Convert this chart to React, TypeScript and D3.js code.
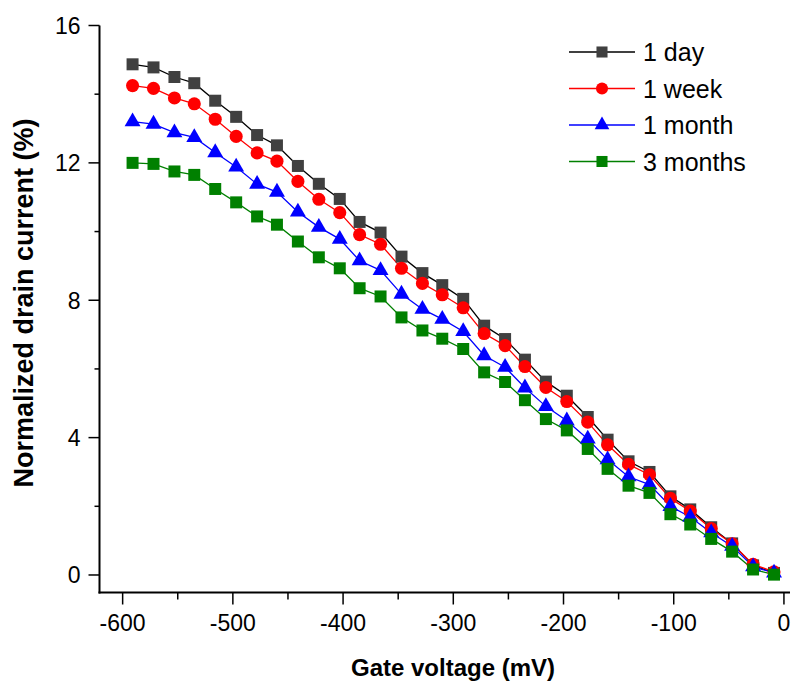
import React, { useEffect, useRef } from 'react';
import * as d3 from 'd3';

// gate voltage (mV) of each measurement
const voltages = [
  -591, -572, -553, -535, -516, -497, -478, -460, -441, -422, -403, -385, -366, -347, -328, -310,
  -291, -272, -253, -235, -216, -197, -178, -160, -141, -122, -103, -85, -66, -47, -28, -9,
];

const oneDay = [
  14.87, 14.78, 14.5, 14.32, 13.81, 13.34, 12.81, 12.51, 11.91, 11.39, 10.95, 10.28, 9.97, 9.27, 8.79, 8.44,
  8.04, 7.26, 6.87, 6.27, 5.63, 5.22, 4.6, 3.94, 3.31, 3.0, 2.29, 1.91, 1.39, 0.92, 0.28, 0.06,
];
const oneWeek = [
  14.25, 14.17, 13.89, 13.72, 13.27, 12.77, 12.29, 12.05, 11.46, 10.94, 10.55, 9.91, 9.63, 8.93, 8.49, 8.16,
  7.78, 7.03, 6.68, 6.07, 5.46, 5.05, 4.45, 3.79, 3.22, 2.92, 2.23, 1.86, 1.35, 0.91, 0.31, 0.09,
];
const oneMonth = [
  13.2, 13.13, 12.88, 12.74, 12.3, 11.88, 11.38, 11.15, 10.57, 10.13, 9.78, 9.15, 8.87, 8.18, 7.74, 7.45,
  7.09, 6.39, 6.05, 5.45, 4.91, 4.49, 3.96, 3.36, 2.86, 2.63, 2.0, 1.69, 1.23, 0.84, 0.24, 0.06,
];
const threeMonths = [
  12.0, 11.97, 11.75, 11.65, 11.24, 10.85, 10.44, 10.2, 9.71, 9.25, 8.93, 8.35, 8.11, 7.5, 7.12, 6.88,
  6.58, 5.9, 5.62, 5.09, 4.54, 4.21, 3.67, 3.09, 2.6, 2.39, 1.77, 1.47, 1.05, 0.68, 0.16, 0.01,
];

const seriesNames = ['1 day', '1 week', '1 month', '3 months'];
const xTicks = [-600, -500, -400, -300, -200, -100, 0];
const yTicks = [0, 4, 8, 12, 16];

const FONT = "'Liberation Sans', Arial, sans-serif";

export default function App() {
  const ref = useRef<SVGSVGElement>(null);

  useEffect(() => {
    const svg = d3.select(ref.current);
    svg.selectAll('*').remove();

    const x = d3.scaleLinear().domain([-621, 5.5]).range([99.5, 790]);
    const y = d3.scaleLinear().domain([-0.51, 16]).range([592.5, 25.5]);

    const styles = [
      { values: oneDay, line: '#000000', fill: '#404040', shape: d3.symbolSquare, size: 144 },
      { values: oneWeek, line: '#ff0000', fill: '#ff0000', shape: d3.symbolCircle, size: 135 },
      { values: oneMonth, line: '#0000ff', fill: '#0000ff', shape: d3.symbolTriangle, size: 110 },
      { values: threeMonths, line: '#008000', fill: '#008000', shape: d3.symbolSquare, size: 144 },
    ];

    // x axis
    const xAxis = svg.append('g').attr('transform', `translate(0, ${y.range()[0]})`);
    xAxis
      .append('line')
      .attr('x1', x.range()[0] - 1)
      .attr('x2', x.range()[1])
      .attr('stroke', '#000')
      .attr('stroke-width', 2);
    xAxis
      .selectAll('.tick')
      .data(d3.range(-600, 1, 50))
      .enter()
      .append('line')
      .attr('x1', (d) => x(d))
      .attr('x2', (d) => x(d))
      .attr('y1', 0)
      .attr('y2', (d) => (d % 100 === 0 ? 12 : 7))
      .attr('stroke', '#000')
      .attr('stroke-width', 1.5);
    xAxis
      .selectAll('.lab')
      .data(xTicks)
      .enter()
      .append('text')
      .attr('x', (d) => x(d))
      .attr('y', 38)
      .attr('text-anchor', 'middle')
      .attr('font-family', FONT)
      .attr('font-size', 23)
      .text((d) => String(d));

    // y axis
    const yAxis = svg.append('g').attr('transform', `translate(${x.range()[0]}, 0)`);
    yAxis
      .append('line')
      .attr('y1', y(16))
      .attr('y2', y.range()[0] + 1)
      .attr('stroke', '#000')
      .attr('stroke-width', 2);
    yAxis
      .selectAll('.tick')
      .data(d3.range(0, 16.1, 2))
      .enter()
      .append('line')
      .attr('y1', (d) => y(d))
      .attr('y2', (d) => y(d))
      .attr('x1', 0)
      .attr('x2', (d) => (d % 4 === 0 ? -11 : -5))
      .attr('stroke', '#000')
      .attr('stroke-width', 1.5);
    yAxis
      .selectAll('.lab')
      .data(yTicks)
      .enter()
      .append('text')
      .attr('x', -19)
      .attr('y', (d) => y(d))
      .attr('dy', '0.36em')
      .attr('text-anchor', 'end')
      .attr('font-family', FONT)
      .attr('font-size', 23)
      .text((d) => String(d));

    // axis titles
    svg
      .append('text')
      .attr('x', 453)
      .attr('y', 676)
      .attr('text-anchor', 'middle')
      .attr('font-family', FONT)
      .attr('font-weight', 'bold')
      .attr('font-size', 24)
      .text('Gate voltage (mV)');
    svg
      .append('text')
      .attr('transform', 'translate(33, 303) rotate(-90)')
      .attr('text-anchor', 'middle')
      .attr('font-family', FONT)
      .attr('font-weight', 'bold')
      .attr('font-size', 27)
      .text('Normalized drain current (%)');

    // series
    const plot = svg.append('g');
    styles.forEach((s) => {
      const pts = voltages.map((v, i) => [v, s.values[i]] as [number, number]);
      plot
        .append('path')
        .datum(pts)
        .attr('fill', 'none')
        .attr('stroke', s.line)
        .attr('stroke-width', 1.3)
        .attr(
          'd',
          d3
            .line()
            .x((d) => x(d[0]))
            .y((d) => y(d[1])),
        );
    });
    styles.forEach((s) => {
      const sym = d3.symbol().type(s.shape).size(s.size);
      plot
        .append('g')
        .selectAll('path')
        .data(voltages.map((v, i) => [v, s.values[i]]))
        .enter()
        .append('path')
        .attr('d', sym)
        .attr('transform', (d) => `translate(${x(d[0])}, ${y(d[1])})`)
        .attr('fill', s.fill);
    });

    // legend
    const legend = svg.append('g').attr('transform', 'translate(569, 52)');
    styles.forEach((s, i) => {
      const row = legend.append('g').attr('transform', `translate(0, ${i * 36.5})`);
      row.append('line').attr('x1', 0).attr('x2', 66).attr('stroke', s.line).attr('stroke-width', 1.3);
      row
        .append('path')
        .attr('d', d3.symbol().type(s.shape).size(s.size * 0.85)())
        .attr('transform', 'translate(33, 0)')
        .attr('fill', s.fill);
      row
        .append('text')
        .attr('x', 74)
        .attr('dy', '0.36em')
        .attr('font-family', FONT)
        .attr('font-size', 25)
        .text(seriesNames[i]);
    });
  }, []);

  return (
    <div>
      <style>{'body { margin: 0; }'}</style>
      <svg ref={ref} width={800} height={681} style={{ display: 'block', background: '#fff' }} />
    </div>
  );
}
